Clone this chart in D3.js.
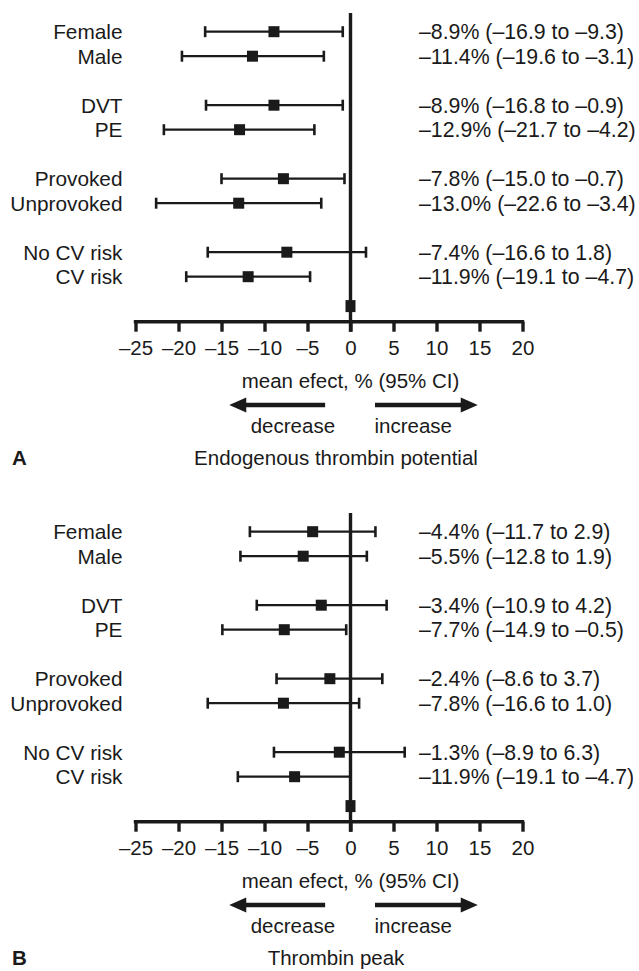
<!DOCTYPE html>
<html>
<head>
<meta charset="utf-8">
<script src="https://cdn.jsdelivr.net/npm/d3@7/dist/d3.min.js"></script>
<style>
  html, body { margin: 0; padding: 0; background: #fff; }
  svg { display: block; }
  text { font-family: "Liberation Sans", Arial, Helvetica, sans-serif; fill: #1a1a1a; }
</style>
</head>
<body>
<svg id="chart" width="639" height="971"></svg>
<script>
// ---------- data ----------
const categories = ["Female", "Male", "DVT", "PE", "Provoked", "Unprovoked", "No CV risk", "CV risk"];

// Panel A: Endogenous thrombin potential (values as plotted)
const etpMean = [-8.9, -11.4, -8.9, -12.9, -7.8, -13.0, -7.4, -11.9];
const etpLow  = [-16.9, -19.6, -16.8, -21.7, -15.0, -22.6, -16.6, -19.1];
const etpHigh = [-0.9, -3.1, -0.9, -4.2, -0.7, -3.4, 1.8, -4.7];
const etpLabels = [
  "–8.9% (–16.9 to –9.3)", "–11.4% (–19.6 to –3.1)",
  "–8.9% (–16.8 to –0.9)", "–12.9% (–21.7 to –4.2)",
  "–7.8% (–15.0 to –0.7)", "–13.0% (–22.6 to –3.4)",
  "–7.4% (–16.6 to 1.8)", "–11.9% (–19.1 to –4.7)"
];

// Panel B: Thrombin peak (values as plotted)
const peakMean = [-4.4, -5.5, -3.4, -7.7, -2.4, -7.8, -1.3, -6.5];
const peakLow  = [-11.7, -12.8, -10.9, -14.9, -8.6, -16.6, -8.9, -13.1];
const peakHigh = [2.9, 1.9, 4.2, -0.5, 3.7, 1.0, 6.3, 0.0];
const peakLabels = [
  "–4.4% (–11.7 to 2.9)", "–5.5% (–12.8 to 1.9)",
  "–3.4% (–10.9 to 4.2)", "–7.7% (–14.9 to –0.5)",
  "–2.4% (–8.6 to 3.7)", "–7.8% (–16.6 to 1.0)",
  "–1.3% (–8.9 to 6.3)", "–11.9% (–19.1 to –4.7)"
];

const tickValues = [-25, -20, -15, -10, -5, 0, 5, 10, 15, 20];
const tickLabels = ["–25", "–20", "–15", "–10", "–5", "0", "5", "10", "15", "20"];
const axisTitle = "mean efect, % (95% CI)";
const panelLetters = ["A", "B"];
const panelTitles = ["Endogenous thrombin potential", "Thrombin peak"];

// ---------- drawing ----------
const svg = d3.select("#chart");
const ink = "#1a1a1a";
const FS = 20.5;
const FS_EST = 21.3;

const x = d3.scaleLinear().domain([-25, 20]).range([135.5, 522.5]);

function drawPanel(offsetY, mean, low, high, labels, letter, title) {
  const g = svg.append("g").attr("transform", `translate(0,${offsetY})`);
  // slot index: two rows per group with one empty slot between groups
  const y = d3.scaleLinear().domain([0, 1]).range([31.7, 56.2]);
  const rows = categories.map((c, i) => ({
    cat: c, mean: mean[i], low: low[i], high: high[i], label: labels[i],
    slot: i + Math.floor(i / 2)
  }));
  const axisY = 321.7;

  // zero line
  g.append("line")
    .attr("x1", x(0)).attr("x2", x(0))
    .attr("y1", 13).attr("y2", axisY + 10)
    .attr("stroke", ink).attr("stroke-width", 3.4);

  // axis
  const axis = d3.axisBottom(x).tickValues(tickValues)
    .tickSize(10).tickSizeOuter(0)
    .tickFormat((d, i) => tickLabels[i]);
  const ax = g.append("g").attr("transform", `translate(0,${axisY})`).call(axis);
  ax.select(".domain").attr("stroke", ink).attr("stroke-width", 3.4)
    .attr("d", `M${x(-25) - 1.7},0H${x(20) + 1.7}`);
  ax.selectAll(".tick line").attr("stroke", ink).attr("stroke-width", 3.4);
  ax.selectAll(".tick text")
    .attr("y", 0).attr("dy", null)
    .attr("transform", "translate(0,33.5)")
    .style("font-size", FS + "px")
    .style("font-family", '"Liberation Sans", Arial, sans-serif')
    .attr("fill", ink);

  // error bars
  const bars = g.selectAll("g.row").data(rows).join("g").attr("class", "row")
    .attr("transform", d => `translate(0,${y(d.slot)})`);
  bars.append("line")
    .attr("x1", d => x(d.low)).attr("x2", d => x(d.high))
    .attr("y1", 0).attr("y2", 0)
    .attr("stroke", ink).attr("stroke-width", 2.2);
  bars.append("line")
    .attr("x1", d => x(d.low)).attr("x2", d => x(d.low))
    .attr("y1", -5.5).attr("y2", 5.5)
    .attr("stroke", ink).attr("stroke-width", 2.6);
  bars.append("line")
    .attr("x1", d => x(d.high)).attr("x2", d => x(d.high))
    .attr("y1", -5.5).attr("y2", 5.5)
    .attr("stroke", ink).attr("stroke-width", 2.6);
  bars.append("rect")
    .attr("x", d => x(d.mean) - 5.5).attr("y", -5.5)
    .attr("width", 11).attr("height", 11)
    .attr("fill", ink);
  // category labels
  bars.append("text")
    .attr("x", 122.5).attr("y", 0).attr("dy", "0.36em")
    .attr("text-anchor", "end")
    .style("font-size", (FS + 0.3) + "px")
    .text(d => d.cat);
  // estimate labels
  bars.append("text")
    .attr("x", 419).attr("y", 0).attr("dy", "0.36em")
    .style("font-size", FS_EST + "px")
    .text(d => d.label);

  // reference square at zero
  g.append("rect")
    .attr("x", x(0) - 5).attr("y", y(11.2) - 6)
    .attr("width", 10).attr("height", 12)
    .attr("fill", ink);

  // axis title
  g.append("text")
    .attr("x", x(0)).attr("y", 388)
    .attr("text-anchor", "middle")
    .style("font-size", FS + "px")
    .text(axisTitle);

  // arrows
  const arrowY = 405;
  const arrow = (from, to) => {
    const dir = Math.sign(to - from);
    const head = 17;
    g.append("line")
      .attr("x1", x(from)).attr("x2", x(to) - dir * head + dir * 2)
      .attr("y1", arrowY).attr("y2", arrowY)
      .attr("stroke", ink).attr("stroke-width", 4.6);
    g.append("path")
      .attr("d", `M${x(to)},${arrowY}L${x(to) - dir * head},${arrowY - 7.5}L${x(to) - dir * head},${arrowY + 7.5}Z`)
      .attr("fill", ink);
  };
  arrow(-2.95, -14.1);
  arrow(2.85, 14.8);

  g.append("text")
    .attr("x", x(-6.7)).attr("y", 433)
    .attr("text-anchor", "middle")
    .style("font-size", FS + "px")
    .text("decrease");
  g.append("text")
    .attr("x", x(7.3)).attr("y", 433)
    .attr("text-anchor", "middle")
    .style("font-size", FS + "px")
    .text("increase");

  // panel letter and title
  g.append("text")
    .attr("x", 12).attr("y", 465)
    .style("font-size", FS + "px").style("font-weight", "bold")
    .text(letter);
  g.append("text")
    .attr("x", 336).attr("y", 465)
    .attr("text-anchor", "middle")
    .style("font-size", FS + "px")
    .text(title);
}

drawPanel(0, etpMean, etpLow, etpHigh, etpLabels, panelLetters[0], panelTitles[0]);
drawPanel(500, peakMean, peakLow, peakHigh, peakLabels, panelLetters[1], panelTitles[1]);
</script>
</body>
</html>
